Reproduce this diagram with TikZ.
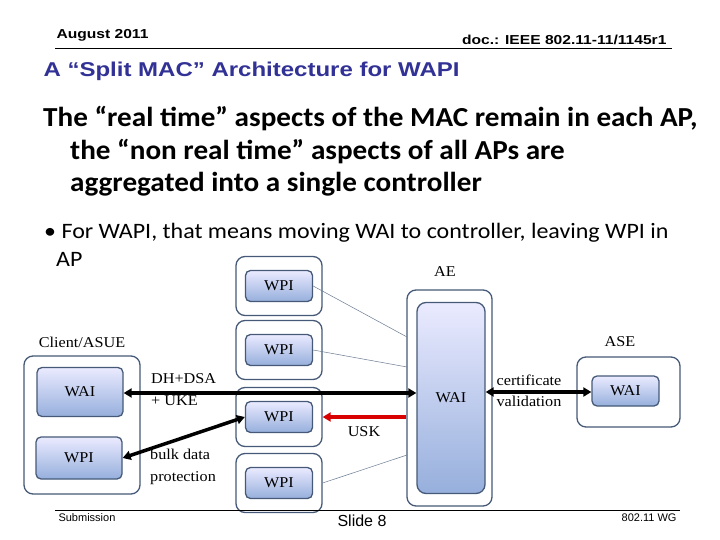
\documentclass[tikz,border=0pt]{standalone}
\usepackage{fontspec}
\setmainfont{Liberation Serif}[FakeStretch=1.08]
\newfontfamily\carlh{Carlito}[FakeStretch=1.06]
\newfontfamily\carlb{Carlito}[FakeStretch=1.09]
\newfontfamily\hsans{Liberation Sans}[FakeStretch=1.2]
\newfontfamily\hsansn{Liberation Sans}
\usetikzlibrary{arrows.meta}
\definecolor{bord}{RGB}{70,90,120}
\definecolor{ttl}{RGB}{50,50,150}
\begin{document}
\begin{tikzpicture}[x=1pt,y=-1pt,
  outer/.style={draw=bord,line width=1.3pt,rounded corners=9pt},
  inner/.style={draw=bord,line width=1.3pt,rounded corners=5pt,top color=blue!8!white,bottom color={rgb,255:red,150;green,175;blue,220},font=\fontsize{15}{15}\selectfont,inner sep=0pt},
  lbl/.style={font=\fontsize{15}{17}\selectfont,inner sep=0pt},
  thin/.style={draw=bord!80,line width=0.5pt},
  big/.style={line width=3.5pt,{Triangle[length=8pt,width=9pt]}-{Triangle[length=8pt,width=9pt]}}]
\useasboundingbox (0,0) rectangle (720,540);
\fill[white] (0,0) rectangle (720,540);
% header
\node[font=\hsans\bfseries\fontsize{13}{13}\selectfont,anchor=west] (date) at (53,35) {August 2011};
\node[font=\hsans\bfseries\fontsize{13}{13}\selectfont,anchor=east] (doc) at (670,40) {doc.: IEEE 802.11-11/1145r1};
\coordinate (hl1) at (55,48); \coordinate (hl2) at (672,48);
\draw[line width=0.8pt] (hl1) -- (hl2);
\node[font=\hsans\bfseries\fontsize{20}{20}\selectfont,text=ttl,anchor=west] (title) at (40,71) {A “Split MAC” Architecture for WAPI};
\node[font=\carlh\bfseries\fontsize{27.5}{32.5}\selectfont,anchor=north west,align=left,inner sep=0pt] (head) at (43,106) {The “real time” aspects of the MAC remain in each AP,\\\hspace*{27pt}the “non real time” aspects of all APs are\\\hspace*{27pt}aggregated into a single controller};
\node[font=\carlb\fontsize{22}{28}\selectfont,anchor=north west,align=left,inner sep=0pt] (bul) at (44,223) {• For WAPI, that means moving WAI to controller, leaving WPI in\\\hspace*{12pt}AP};
% client
\node[outer,minimum width=116pt,minimum height=138pt] (cl) at (82,425) {};
\node[inner,minimum width=86pt,minimum height=49pt] (cwai) at (80,392) {WAI};
\node[inner,minimum width=86pt,minimum height=42pt] (cwpi) at (79,458) {WPI};
\node[lbl] (cll) at (82,342) {Client/ASUE};
% middle column
\foreach \n/\y in {1/286,2/350,3/417,4/483}{
  \node[outer,minimum width=86pt,minimum height=59pt] (o\n) at (279,\y) {};
  \node[inner,minimum width=67pt,minimum height=31pt] (w\n) at (279,\y) {WPI};
}
% AE
\node[outer,minimum width=85pt,minimum height=216pt] (ae) at (449.5,398) {};
\node[inner,minimum width=68pt,minimum height=191pt,rounded corners=9pt] (aewai) at (451,398) {WAI};
\node[lbl] (ael) at (445,272) {AE};
% ASE
\node[outer,minimum width=103pt,minimum height=70pt] (ase) at (628.5,392) {};
\node[inner,minimum width=67pt,minimum height=30pt] (asewai) at (625.5,391) {WAI};
\node[lbl] (asel) at (620,342) {ASE};
% thin lines
\coordinate (t1) at (407,337); \coordinate (t2) at (407,367); \coordinate (t4) at (407,455);
\draw[thin] (w1.east) -- (t1);
\draw[thin] (w2.east) -- (t2);
\draw[thin] (o4.east) -- (t4);
% arrows
\draw[big] (cwai.east |- 0,393) -- (aewai.west |- 0,393);
\draw[big] (cwpi.east) -- (w3.west);
\draw[line width=3.5pt,red!85!black,-{Triangle[length=8pt,width=9pt]}] (ae.west |- 0,417) -- (o3.east |- 0,417);
\draw[big] (aewai.east |- 0,392) -- (asewai.west |- 0,392);
\node[lbl,anchor=north west,align=left,font=\fontsize{15}{22}\selectfont] (dh) at (151,373) {DH+DSA\\+ UKE};
\node[lbl,anchor=north west,align=left,font=\fontsize{15}{22}\selectfont] (bd) at (150,449) {bulk data\\protection};
\node[lbl] (usk) at (364,432) {USK};
\node[lbl,align=center,font=\fontsize{15}{21}\selectfont] (cv) at (529,391) {certificate\\validation};
% footer
\coordinate (f1) at (55,510); \coordinate (f2) at (680,510);
\draw[line width=0.6pt] (f1) -- (f2);
\node[font=\hsansn\fontsize{11}{11}\selectfont,anchor=west] (sub) at (55,518) {Submission};
\node[font=\hsansn\fontsize{16}{16}\selectfont] (sl) at (362,521) {Slide 8};
\node[font=\hsansn\fontsize{11}{11}\selectfont,anchor=east] (wg) at (680,518) {802.11 WG};
\end{tikzpicture}
\end{document}
